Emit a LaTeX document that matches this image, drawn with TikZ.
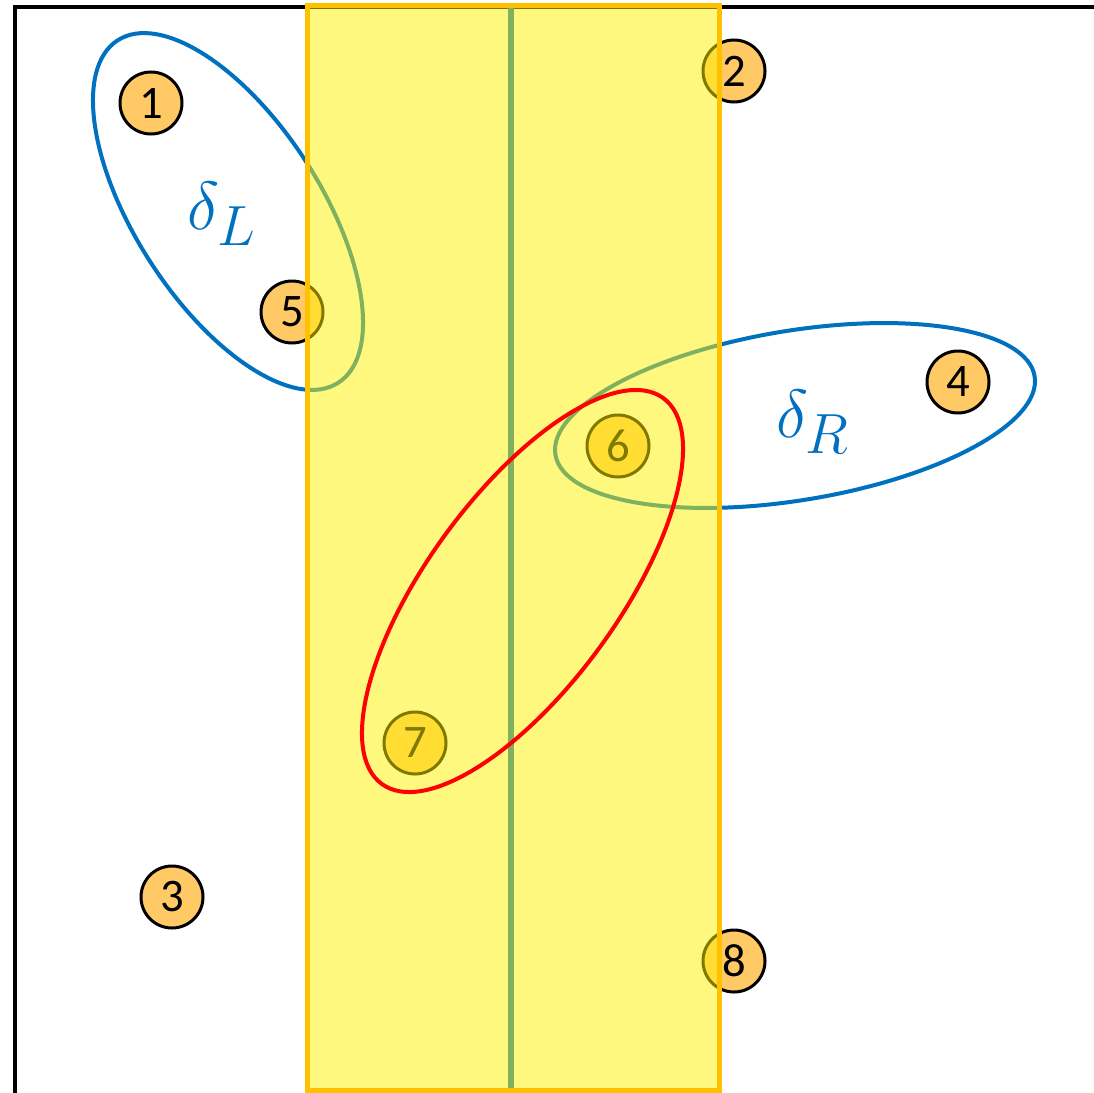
\documentclass[tikz,border=0pt]{standalone}
\usepackage{fontspec}
\newfontfamily\numfont{Carlito}
\usetikzlibrary{shapes.geometric}
\definecolor{myblue}{HTML}{0070C0}
\definecolor{myorange}{HTML}{FFC000}
\definecolor{circfill}{HTML}{FFC966}
\begin{document}
\begin{tikzpicture}[x=0.75pt,y=-0.75pt,
  numcirc/.style={circle,draw=black,line width=2.25pt,fill=circfill,minimum size=46.5pt,inner sep=0pt,font=\numfont\fontsize{35}{40}\selectfont},
  ell/.style={ellipse,draw,line width=3pt,inner sep=0pt},
  dlabel/.style={text=myblue,inner sep=0pt,font=\Huge,scale=2.05}]
\useasboundingbox (0,0) rectangle (1094,1092);
\fill[white] (0,0) rectangle (1094,1092);
% frame
\coordinate (fl1) at (15,1095);
\coordinate (fl2) at (15,7);
\coordinate (fl3) at (1097,7);
\draw[line width=3pt] (fl1) -- (fl2) -- (fl3);
% circles
\node[numcirc] (c1) at (151,103) {1};
\node[numcirc] (c2) at (734,71) {2};
\node[numcirc] (c3) at (172,897) {3};
\node[numcirc] (c4) at (958,382) {4};
\node[numcirc] (c5) at (292,312) {5};
\node[numcirc] (c6) at (618,446) {6};
\node[numcirc] (c7) at (415,743) {7};
\node[numcirc] (c8) at (734,961) {8};
% blue ellipses
\node[ell,draw=myblue,minimum width=305.5pt,minimum height=138.9pt,rotate=-57.2] (eL) at (228,211.5) {};
\node[ell,draw=myblue,minimum width=364.2pt,minimum height=127.2pt,rotate=9.3] (eR) at (795,415.5) {};
% labels
\node[dlabel] (dL) at (222,214) {$\delta_L$};
\node[dlabel] (dR) at (813,422) {$\delta_R$};
% vertical line
\coordinate (vt) at (511,8);
\coordinate (vb) at (511,1095);
\draw[myblue,line width=4.5pt] (vt) -- (vb);
% yellow band
\coordinate (ya) at (307,5);
\coordinate (yb) at (719,1090);
\fill[yellow,opacity=0.5] (ya) rectangle (yb);
\draw[myorange,line width=3.75pt] (ya) rectangle (yb);
% red ellipse
\node[ell,draw=red,minimum width=358.2pt,minimum height=143.4pt,rotate=53.9] (eRed) at (522.5,591) {};
\end{tikzpicture}
\end{document}
